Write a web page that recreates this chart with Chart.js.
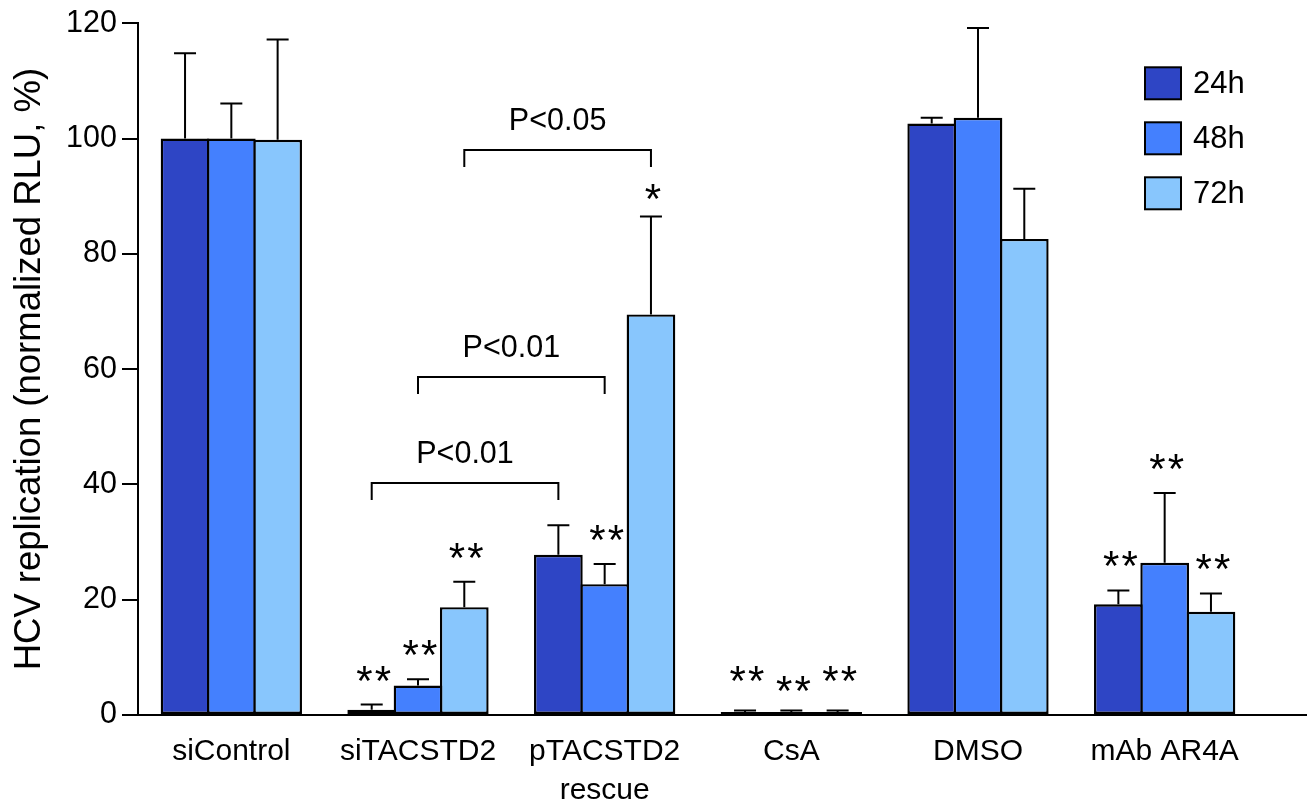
<!DOCTYPE html>
<html>
<head>
<meta charset="utf-8">
<title>HCV replication</title>
<script src="https://cdn.jsdelivr.net/npm/chart.js@4.4.0/dist/chart.umd.min.js"></script>
<style>
  html, body { margin: 0; padding: 0; background: #fff; }
  canvas { display: block; }
</style>
</head>
<body>
<canvas id="hcvChart" width="1307" height="801"></canvas>
<script>
// --- data ---
const categories = ['siControl', 'siTACSTD2', ['pTACSTD2', 'rescue'], 'CsA', 'DMSO', 'mAb AR4A'];
const seriesNames = ['24h', '48h', '72h'];
const seriesColors = ['#2E45C5', '#4480FE', '#88C6FD'];

const values24h = [100, 0.9, 27.8, 0.5, 102.6, 19.2];
const values48h = [100, 5.1, 22.7, 0.5, 103.6, 26.4];
const values72h = [99.8, 18.7, 69.5, 0.5, 82.6, 17.9];

const errors24h = [14.8, 0.9, 5.1, 0.3, 1.0, 2.4];
const errors48h = [6.1, 1.1, 3.5, 0.3, 15.6, 12.1];
const errors72h = [17.4, 4.4, 17.0, 0.3, 8.7, 3.2];

const stars24h = ['', '**', '', '**', '', '**'];
const stars48h = ['', '**', '**', '**', '', '**'];
const stars72h = ['', '**', '*', '**', '', '**'];

const yTicks = [0, 20, 40, 60, 80, 100, 120];

// brackets between siTACSTD2 and pTACSTD2 rescue, one per time point
const bracketLabels = ['P<0.01', 'P<0.01', 'P<0.05'];
const bracketLevels = [40.2, 58.6, 98.1];

const allValues = [values24h, values48h, values72h];
const allErrors = [errors24h, errors48h, errors72h];
const allStars = [stars24h, stars48h, stars72h];

const FONT = "'Liberation Sans', Arial, Helvetica, sans-serif";
Chart.defaults.font.family = FONT;
Chart.defaults.color = '#000';

// error bars, stars, baseline, brackets, legend
const decorations = {
    id: 'decorations',
    afterDatasetsDraw(chart) {
        const ctx = chart.ctx;
        const y = chart.scales.y;
        const area = chart.chartArea;
        ctx.save();
        ctx.strokeStyle = '#000';
        ctx.fillStyle = '#000';
        ctx.lineWidth = 2;

        // x baseline runs to the right edge
        const y0 = Math.round(y.getPixelForValue(0));
        ctx.beginPath();
        ctx.moveTo(area.left, y0);
        ctx.lineTo(chart.width, y0);
        ctx.stroke();

        // error bars (upper only)
        for (let i = 0; i < allValues.length; i++) {
            const meta = chart.getDatasetMeta(i);
            meta.data.forEach((bar, j) => {
                const top = y.getPixelForValue(allValues[i][j] + allErrors[i][j]);
                ctx.beginPath();
                ctx.moveTo(bar.x, bar.y);
                ctx.lineTo(bar.x, top);
                ctx.moveTo(bar.x - 11, top);
                ctx.lineTo(bar.x + 11, top);
                ctx.stroke();

                const mark = allStars[i][j];
                if (mark) {
                    let lift = mark.length === 1 ? 27 : 34;
                    if (j === 3) lift = (i === 1) ? 29 : 39; // CsA marks are staggered
                    const cy = top - lift;
                    ctx.font = '42px ' + FONT;
                    ctx.textAlign = 'center';
                    ctx.textBaseline = 'alphabetic';
                    const n = mark.length;
                    for (let k = 0; k < n; k++) {
                        const cx = bar.x + 2 + (k - (n - 1) / 2) * 18.5;
                        ctx.fillText('*', cx, cy + 0.57 * 42);
                    }
                }
            });
        }

        // significance brackets
        ctx.font = '30.5px ' + FONT;
        ctx.textAlign = 'center';
        ctx.textBaseline = 'middle';
        bracketLevels.forEach((level, i) => {
            const meta = chart.getDatasetMeta(i);
            const xa = meta.data[1].x;
            const xb = meta.data[2].x;
            const yl = Math.round(y.getPixelForValue(level));
            ctx.beginPath();
            ctx.moveTo(xa, yl + 17);
            ctx.lineTo(xa, yl);
            ctx.lineTo(xb, yl);
            ctx.lineTo(xb, yl + 17);
            ctx.stroke();
            ctx.fillText(bracketLabels[i], (xa + xb) / 2, yl - 28);
        });

        // legend, top right
        const boxX = area.right - 113;
        ctx.textAlign = 'left';
        ctx.font = '31px ' + FONT;
        seriesNames.forEach((name, i) => {
            const cy = area.top + 60 + i * 55;
            ctx.fillStyle = seriesColors[i];
            ctx.fillRect(boxX, cy - 16, 36, 32);
            ctx.strokeRect(boxX, cy - 16, 36, 32);
            ctx.fillStyle = '#000';
            ctx.fillText(name, boxX + 48, cy + 1);
        });
        ctx.restore();
    }
};

const ctx = document.getElementById('hcvChart').getContext('2d');

new Chart(ctx, {
    type: 'bar',
    data: {
        labels: categories,
        datasets: seriesNames.map((name, i) => ({
            label: name,
            data: allValues[i],
            backgroundColor: seriesColors[i],
            borderColor: '#000',
            borderWidth: 2.4,
            borderSkipped: false,
            categoryPercentage: 0.744,
            barPercentage: 1.052
        }))
    },
    options: {
        responsive: false,
        animation: false,
        layout: { padding: { top: 23, right: 49, left: 0, bottom: 0 } },
        plugins: {
            legend: { display: false },
            tooltip: { enabled: false }
        },
        scales: {
            x: {
                grid: { display: false, drawTicks: false },
                border: { display: false },
                ticks: {
                    font: { size: 30, lineHeight: 1.3 },
                    color: '#000',
                    padding: 17,
                    maxRotation: 0,
                    autoSkip: false
                },
                afterFit: s => { s.height = 86; }
            },
            y: {
                min: 0,
                max: 120,
                afterBuildTicks: s => { s.ticks = yTicks.map(v => ({ value: v })); },
                ticks: { font: { size: 30.5 }, color: '#000', padding: 5 },
                grid: { drawOnChartArea: false, tickLength: 16, color: '#000', lineWidth: 2 },
                border: { color: '#000', width: 2 },
                title: {
                    display: true,
                    text: 'HCV replication (normalized RLU, %)',
                    font: { size: 36.5 },
                    color: '#000',
                    padding: { top: 8, bottom: 0 }
                },
                afterFit: s => { s.width = 138; }
            }
        }
    },
    plugins: [decorations]
});
</script>
</body>
</html>
